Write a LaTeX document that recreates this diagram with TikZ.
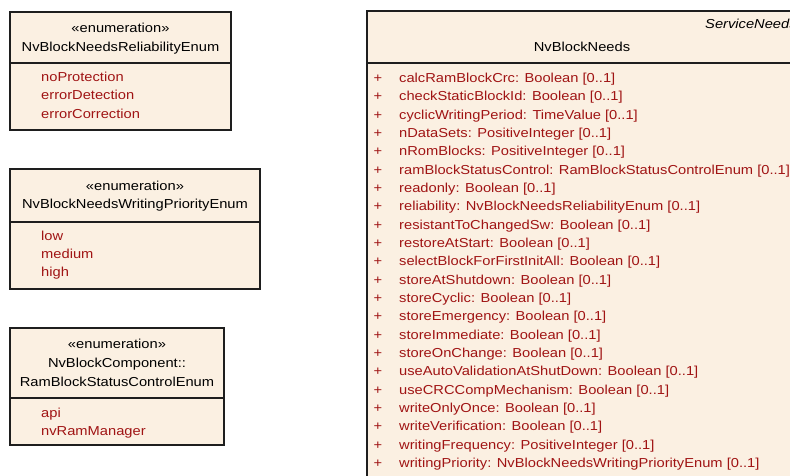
\documentclass[tikz,border=0pt]{standalone}
\usepackage{fontspec}
\setmainfont[FakeStretch=1.13]{Liberation Sans}
\definecolor{umlfill}{RGB}{251,240,226}
\definecolor{umlred}{RGB}{160,20,20}
\definecolor{umlline}{RGB}{30,30,30}
\begin{document}
\begin{tikzpicture}[x=1pt,y=-1pt,
  box/.style={draw=umlline, line width=1.2pt, fill=umlfill, anchor=north west, inner sep=0pt, outer sep=0pt},
  sepline/.style={draw=umlline, line width=1.2pt},
  hdr/.style={anchor=base, inner sep=0pt, text=black, font=\fontsize{13}{15}\selectfont},
  stereo/.style={anchor=base west, inner sep=0pt, text=black, font=\fontsize{13}{15}\selectfont\itshape},
  item/.style={anchor=base west, inner sep=0pt, text=umlred, font=\fontsize{13}{15}\selectfont},
  plus/.style={anchor=base, inner sep=0pt, text=umlred, font=\fontsize{13}{15}\selectfont},
]
\useasboundingbox (0,0) rectangle (790,476);
\clip (0,0) rectangle (790,476);

% Box 1
\node[box, minimum width=221pt, minimum height=118pt] (e1) at (10,12) {};
\draw[sepline] (e1.west |- 0,63) -- (e1.east |- 0,63);
\node[hdr] (e1s) at (120.5,32.5) {«enumeration»};
\node[hdr] (e1n) at (120.5,51.5) {NvBlockNeedsReliabilityEnum};
\node[item] (e1a) at (41,81.5) {noProtection};
\node[item] (e1b) at (41,99.8) {errorDetection};
\node[item] (e1c) at (41,118.1) {errorCorrection};

% Box 2
\node[box, minimum width=250pt, minimum height=120pt] (e2) at (10,169) {};
\draw[sepline] (e2.west |- 0,222) -- (e2.east |- 0,222);
\node[hdr] (e2s) at (135,190.5) {«enumeration»};
\node[hdr] (e2n) at (135,208.5) {NvBlockNeedsWritingPriorityEnum};
\node[item] (e2a) at (41,240.2) {low};
\node[item] (e2b) at (41,258.5) {medium};
\node[item] (e2c) at (41,276.8) {high};

% Box 3
\node[box, minimum width=214pt, minimum height=117pt] (e3) at (10,328) {};
\draw[sepline] (e3.west |- 0,398) -- (e3.east |- 0,398);
\node[hdr] (e3s) at (117,348.5) {«enumeration»};
\node[hdr] (e3n) at (117,367.5) {NvBlockComponent::};
\node[hdr] (e3m) at (117,386.5) {RamBlockStatusControlEnum};
\node[item] (e3a) at (41,417) {api};
\node[item] (e3b) at (41,435.3) {nvRamManager};

% Box 4
\node[box, minimum width=430pt, minimum height=500pt] (c1) at (367,11) {};
\draw[sepline] (c1.west |- 0,63) -- (c1.east |- 0,63);
\node[stereo] (c1s) at (705,28.5) {ServiceNeeds};
\node[hdr] (c1n) at (582,51.5) {NvBlockNeeds};
\foreach \t [count=\i] in {
  {calcRamBlockCrc: Boolean [0..1]},
  {checkStaticBlockId: Boolean [0..1]},
  {cyclicWritingPeriod: TimeValue [0..1]},
  {nDataSets: PositiveInteger [0..1]},
  {nRomBlocks: PositiveInteger [0..1]},
  {ramBlockStatusControl: RamBlockStatusControlEnum [0..1]},
  {readonly: Boolean [0..1]},
  {reliability: NvBlockNeedsReliabilityEnum [0..1]},
  {resistantToChangedSw: Boolean [0..1]},
  {restoreAtStart: Boolean [0..1]},
  {selectBlockForFirstInitAll: Boolean [0..1]},
  {storeAtShutdown: Boolean [0..1]},
  {storeCyclic: Boolean [0..1]},
  {storeEmergency: Boolean [0..1]},
  {storeImmediate: Boolean [0..1]},
  {storeOnChange: Boolean [0..1]},
  {useAutoValidationAtShutDown: Boolean [0..1]},
  {useCRCCompMechanism: Boolean [0..1]},
  {writeOnlyOnce: Boolean [0..1]},
  {writeVerification: Boolean [0..1]},
  {writingFrequency: PositiveInteger [0..1]},
  {writingPriority: NvBlockNeedsWritingPriorityEnum [0..1]}}
{
  \node[plus] (p\i) at (378,{82.5+18.33*(\i-1)}) {+};
  \node[item] (a\i) at (399,{82.5+18.33*(\i-1)}) {\t};
}
\end{tikzpicture}
\end{document}
